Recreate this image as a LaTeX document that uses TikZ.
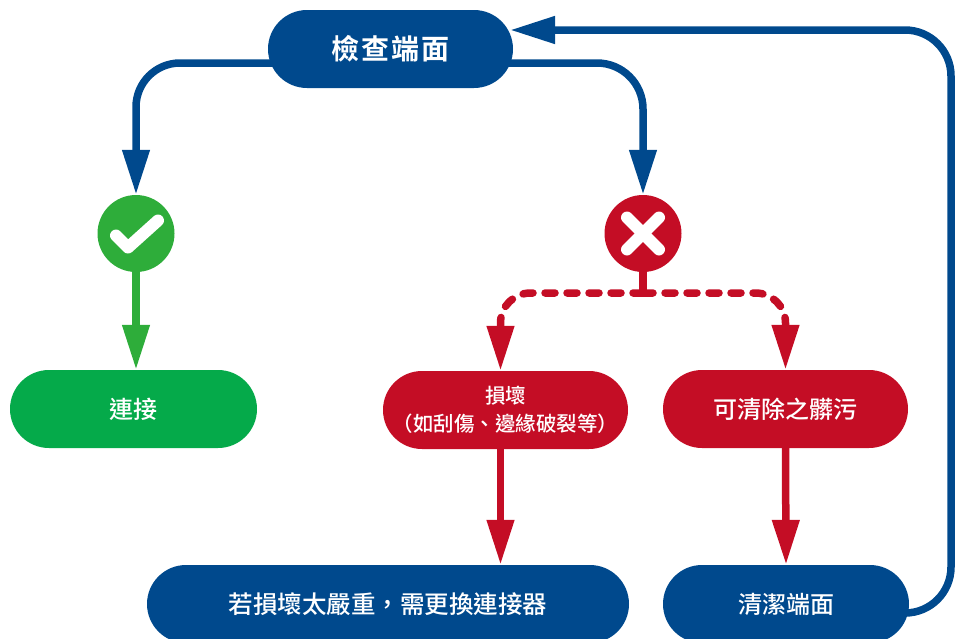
\documentclass[tikz,border=0pt]{standalone}
\usepackage{fontspec}
\newfontfamily\cjk{Noto Sans CJK TC}[UprightFont=* Medium]
\newfontfamily\cjkbold{Noto Sans CJK TC}[UprightFont=* Bold]
\usetikzlibrary{arrows.meta,calc}
\pgfdeclarelayer{bg}
\pgfsetlayers{bg,main}
\definecolor{fblue}{RGB}{0,73,141}
\definecolor{fred}{RGB}{196,13,37}
\definecolor{fgreenc}{RGB}{46,173,58}
\definecolor{fgreenn}{RGB}{5,170,74}
\tikzset{
  pill/.style={rectangle, rounded corners=39pt, minimum height=78pt, inner sep=0pt,
    text=white, align=center, font=\cjk\fontsize{24}{28}\selectfont},
  mark circle/.style={circle, minimum size=77pt, inner sep=0pt},
  conn/.style={line width=7.5pt},
  tipped/.style={-{Triangle[length=45pt,width=26pt]}},
  glyph/.style={white, line width=12pt, line cap=round, line join=round},
}
\begin{document}
\begin{tikzpicture}[x=1pt,y=-1pt]
\useasboundingbox (0,0) rectangle (956,638);
\clip (0,0) rectangle (956,638);

% nodes
\node[pill, fill=fblue, minimum width=245pt, font=\cjkbold\fontsize{28}{30}\selectfont]
  (top) at (390.5,49) {檢\hspace{2pt}查\hspace{2pt}端\hspace{2pt}面};
\node[mark circle, fill=fgreenc] (chk) at (136,233.5) {};
\node[mark circle, fill=fred] (x) at (643,233.5) {};
\node[pill, fill=fgreenn, minimum width=247pt] (con) at (133.5,409) {連接};
\node[pill, fill=fred, minimum width=245pt, font=\cjk\fontsize{20.5}{28}\selectfont]
  (dmg) at (505.5,410) {損壞\\（如刮傷、邊緣破裂等）};
\node[pill, fill=fred, minimum width=245pt] (cln) at (785.5,409) {可清除之髒污};
\node[pill, fill=fblue, minimum width=482pt, font=\cjk\fontsize{24.5}{28}\selectfont]
  (rep) at (388,604) {若損壞太嚴重，需更換連接器};
\node[pill, fill=fblue, minimum width=246pt] (cf) at (786,604) {清潔端面};

% glyphs
\draw[glyph] ($(chk)+(-20,2)$) -- ($(chk)+(-8,14)$) -- ($(chk)+(22,-13)$);
\draw[glyph] ($(x)+(-16,-16)$) -- ($(x)+(16,16)$);
\draw[glyph] ($(x)+(-16,16)$) -- ($(x)+(16,-16)$);

% helper coordinates
\coordinate (xj) at (643,293);
\coordinate (rc1) at (951,613);
\coordinate (rc2) at (951,30);
\coordinate (rin) at (510,30);

\begin{pgfonlayer}{bg}
  \draw[conn, fblue, tipped, rounded corners=44pt]
    ($(top.center)+(0,14)$) -| (chk.north);
  \draw[conn, fblue, tipped, rounded corners=46pt]
    ($(top.center)+(0,14)$) -| (x.north);
  \draw[conn, fgreenc, tipped] (chk.south) -- (chk.south |- con.north);
  \draw[conn, fred] (x.south) -- (xj);
  \draw[conn, fred, tipped, rounded corners=30pt, line cap=round, dash pattern=on 10pt off 12pt]
    (xj) -| ($(dmg.north)+(-5,0)$);
  \draw[conn, fred, tipped, rounded corners=30pt, line cap=round, dash pattern=on 10pt off 12pt]
    (xj) -| (cln.north);
  \draw[conn, fred, tipped] ($(dmg.south)+(-5,0)$) -- ($(rep.north)+(112.5,0)$);
  \draw[conn, fred, tipped] (cln.south) -- (cf.north);
  \draw[conn, fblue, tipped, rounded corners=46pt]
    ($(cf.center)+(0,9)$) -- (rc1) -- (rc2) -- (rin);
\end{pgfonlayer}
\end{tikzpicture}
\end{document}
